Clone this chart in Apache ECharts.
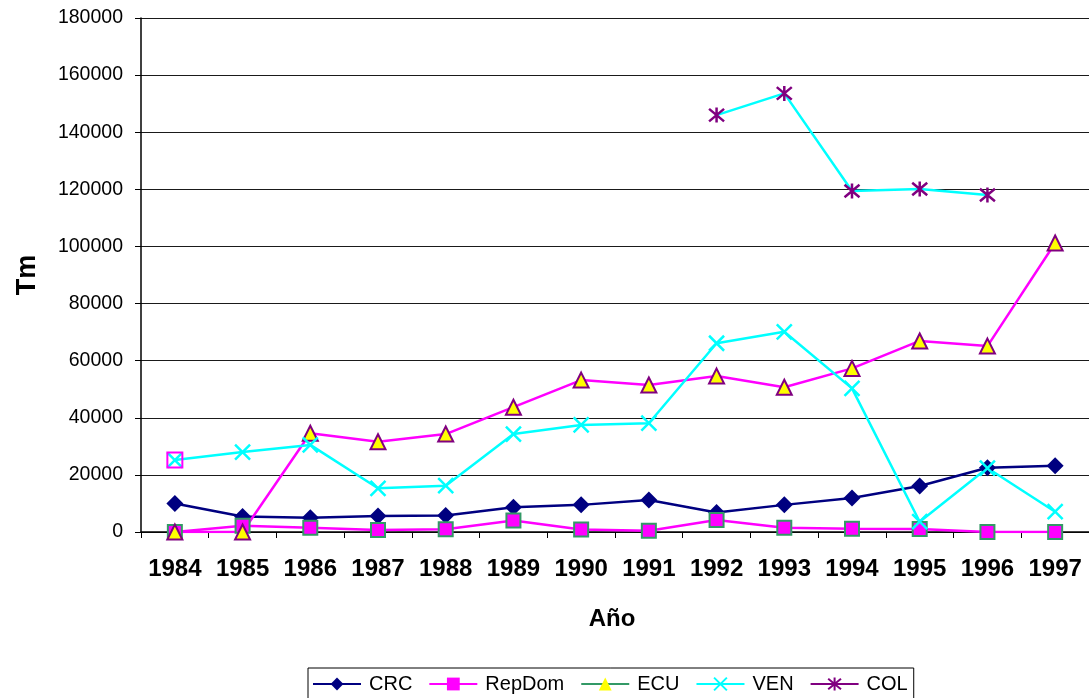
<!DOCTYPE html>
<html>
<head>
<meta charset="utf-8">
<script src="https://cdn.jsdelivr.net/npm/echarts@6/dist/echarts.min.js"></script>
<style>
  html, body { margin: 0; padding: 0; background: #fff; }
  #chart { width: 1089px; height: 698px; }
</style>
</head>
<body>
<div id="chart"></div>
<script>
// Years on the category axis
var years = ['1984','1985','1986','1987','1988','1989','1990','1991','1992','1993','1994','1995','1996','1997'];

// Tonnes per country and year (null = no data)
var crc    = [10000, 5400, 5000, 5600, 5800, 8700, 9500, 11200, 6800, 9500, 11900, 16100, 22500, 23200];
var repDom = [0, 2200, 1500, 700, 1000, 4000, 900, 450, 4200, 1500, 1150, 1050, 0, 0];
var ecu    = [0, 0, 34600, 31600, 34300, 43700, 53200, 51500, 54600, 50700, 57300, 66900, 65100, 101200];
var ven    = [25200, 28000, 30500, 15300, 16200, 34300, 37500, 38100, 66100, 70100, 50300, 3600, 22400, 7100];
var col    = [null, null, null, null, null, null, null, null, 146000, 153600, 119400, 120100, 118000, null];

var xPath = 'path://M0,0 L10,10 M10,0 L0,10';
var starPath = 'path://M0,0 L10,10 M10,0 L0,10 M5,-1 L5,11';

var chart = echarts.init(document.getElementById('chart'), null, { renderer: 'canvas' });

chart.setOption({
  animation: false,
  backgroundColor: '#ffffff',
  textStyle: { fontFamily: 'Liberation Sans, Arial, sans-serif' },
  grid: { left: 141, top: 18, width: 951, height: 514, containLabel: false },
  xAxis: {
    type: 'category',
    data: years,
    boundaryGap: true,
    name: 'Año',
    nameLocation: 'middle',
    nameGap: 75,
    nameTextStyle: { fontSize: 24, fontWeight: 'bold', color: '#000', padding: [0, 0, 0, -6] },
    axisLine: { lineStyle: { color: '#000', width: 1.5 } },
    axisTick: { show: true, alignWithLabel: false, interval: 0, length: 6, lineStyle: { color: '#000' } },
    axisLabel: { fontSize: 24, fontWeight: 'bold', color: '#000', margin: 25, interval: 0 },
    splitLine: { show: false }
  },
  yAxis: {
    type: 'value',
    min: 0,
    max: 180000,
    interval: 20000,
    name: 'Tm',
    nameLocation: 'middle',
    nameGap: 100,
    nameRotate: 90,
    nameTextStyle: { fontSize: 27, fontWeight: 'bold', color: '#000' },
    axisLine: { show: true, lineStyle: { color: '#000', width: 1.5 } },
    axisTick: { show: true, inside: false, length: 6, lineStyle: { color: '#000' } },
    axisLabel: { fontSize: 19.5, color: '#000', margin: 18, formatter: function (v) { return String(v); } },
    splitLine: { show: true, lineStyle: { color: '#1a1a1a', width: 1.2 } }
  },
  legend: {
    bottom: -8,
    left: 308,
    orient: 'horizontal',
    itemWidth: 48,
    itemHeight: 16,
    itemGap: 16,
    padding: [6, 6, 12, 4],
    borderColor: '#000',
    borderWidth: 1,
    textStyle: { fontSize: 20, color: '#000', padding: [0, 0, 0, 3] },
    data: [
      { name: 'CRC' },
      { name: 'RepDom', itemStyle: { borderWidth: 0, color: '#ff00ff' } },
      { name: 'ECU', itemStyle: { color: '#ffff00', borderWidth: 0 }, lineStyle: { color: '#339966' } },
      { name: 'VEN' },
      { name: 'COL', lineStyle: { color: '#800080' } }
    ]
  },
  series: [
    {
      name: 'CRC',
      type: 'line',
      data: crc,
      symbol: 'diamond',
      symbolSize: 17,
      lineStyle: { color: '#000080', width: 2.5 },
      itemStyle: { color: '#000080' }
    },
    {
      name: 'RepDom',
      type: 'line',
      data: repDom,
      symbol: 'rect',
      symbolSize: 14,
      lineStyle: { color: '#ff00ff', width: 2.5 },
      itemStyle: { color: '#ff00ff', borderColor: '#339966', borderWidth: 2 }
    },
    {
      name: 'ECU',
      type: 'line',
      data: ecu,
      symbol: 'triangle',
      symbolSize: 15,
      lineStyle: { color: '#ff00ff', width: 2.5 },
      itemStyle: { color: '#ffff00', borderColor: '#800080', borderWidth: 2 }
    },
    {
      name: 'VEN',
      type: 'line',
      data: ven,
      symbol: xPath,
      symbolSize: 15,
      lineStyle: { color: '#00ffff', width: 2.5 },
      itemStyle: { color: 'transparent', borderColor: '#00ffff', borderWidth: 2.5 },
      markPoint: {
        symbol: 'rect',
        symbolSize: 15,
        itemStyle: { color: 'transparent', borderColor: '#ff00ff', borderWidth: 2 },
        label: { show: false },
        data: [{ coord: [years[0], ven[0]] }]
      }
    },
    {
      name: 'COL',
      type: 'line',
      data: col,
      symbol: starPath,
      symbolSize: 15,
      lineStyle: { color: '#00ffff', width: 2.5 },
      itemStyle: { color: 'transparent', borderColor: '#800080', borderWidth: 2.5 }
    }
  ]
});
</script>
</body>
</html>
